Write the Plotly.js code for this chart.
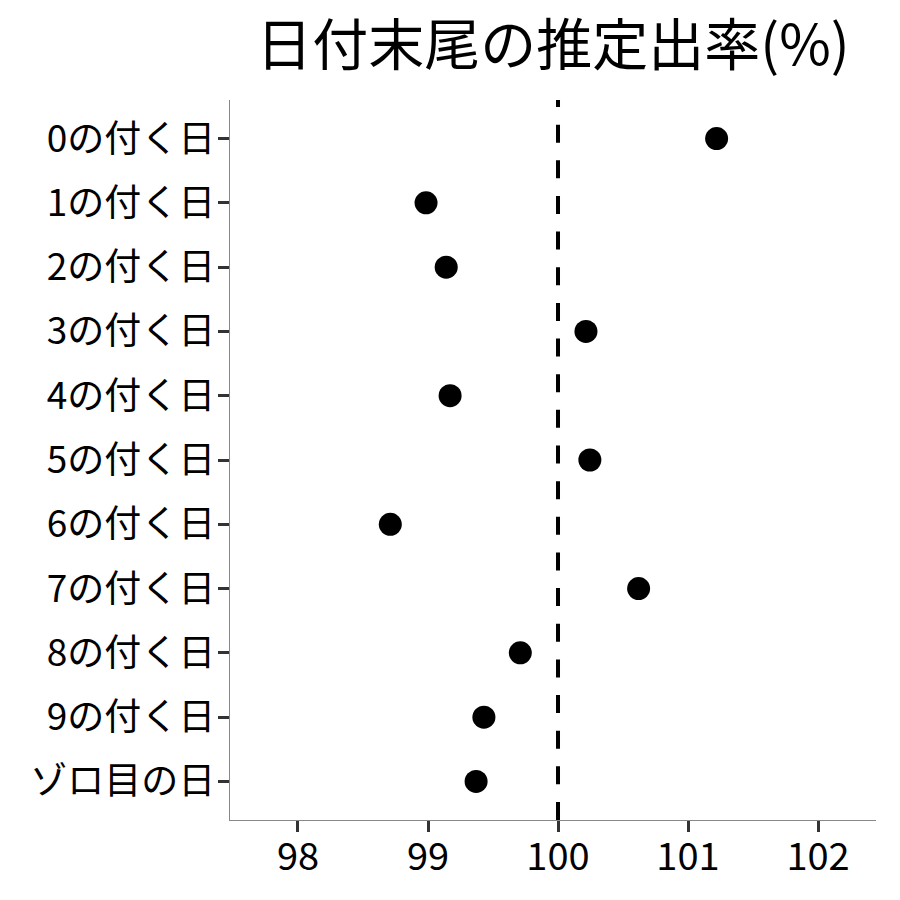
<!DOCTYPE html>
<html>
<head>
<meta charset="utf-8">
<script src="https://cdn.plot.ly/plotly-3.0.1.min.js"></script>
<style>html,body{margin:0;padding:0;background:#fff;}#chart{width:900px;height:900px;}</style>
</head>
<body>
<div id="chart"></div>
<script>
const categories = ["0の付く日","1の付く日","2の付く日","3の付く日","4の付く日","5の付く日","6の付く日","7の付く日","8の付く日","9の付く日","ゾロ目の日"];
const rates = [101.22, 98.985, 99.14, 100.215, 99.17, 100.245, 98.71, 100.62, 99.71, 99.43, 99.37];
const xTicks = [98, 99, 100, 101, 102];
const refValue = 100;

const font = "Noto Sans CJK JP";

const trace = {
  type: "scatter",
  mode: "markers",
  x: rates,
  y: categories,
  marker: {color: "#000000", size: 23},
  hoverinfo: "x+y"
};

const layout = {
  width: 900, height: 900,
  margin: {l: 230, r: 24, t: 100, b: 80},
  paper_bgcolor: "#ffffff",
  plot_bgcolor: "#ffffff",
  showlegend: false,
  font: {family: font, color: "#000000"},
  title: {
    text: "日付末尾の推定出率(%)",
    font: {family: font, size: 56, color: "#000000"},
    x: 0.5, xref: "paper", xanchor: "center",
    y: 0.95, yref: "container", yanchor: "middle"
  },
  xaxis: {
    range: [97.477, 102.446],
    tickvals: xTicks,
    ticktext: xTicks.map(String),
    showgrid: false, zeroline: false,
    showline: true, linecolor: "#888888", linewidth: 1.3,
    ticks: "outside", ticklen: 11, tickwidth: 3, tickcolor: "#333333",
    ticklabelstandoff: -8,
    tickfont: {family: font, size: 38, color: "#000000"}
  },
  yaxis: {
    type: "category",
    categoryorder: "array",
    categoryarray: categories,
    range: [10.6, -0.6],
    showgrid: false, zeroline: false,
    showline: true, linecolor: "#888888", linewidth: 1.3,
    ticks: "outside", ticklen: 11, tickwidth: 3, tickcolor: "#333333",
    ticklabelstandoff: -5,
    tickfont: {family: font, size: 37, color: "#000000"}
  },
  shapes: [{
    type: "line", xref: "x", yref: "paper",
    x0: refValue, x1: refValue, y0: 0, y1: 1,
    line: {color: "#000000", width: 4, dash: "18px,17.65px"},
    layer: "below"
  }]
};

Plotly.newPlot("chart", [trace], layout, {displayModeBar: false, staticPlot: true});
</script>
</body>
</html>
